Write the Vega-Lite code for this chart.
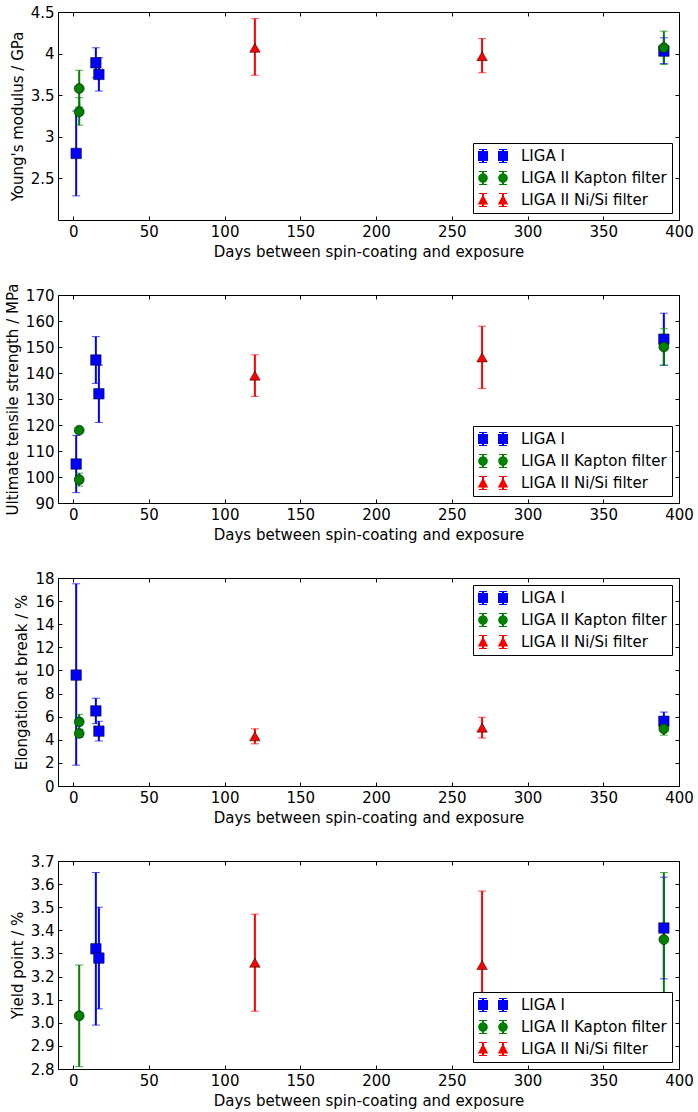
{
  "$schema": "https://vega.github.io/schema/vega-lite/v6.json",
  "padding": {"left": 5, "top": 5, "right": 5, "bottom": 5},
  "bounds": "flush",
  "spacing": 75,
  "resolve": {"legend": {"color": "independent", "shape": "independent"}},
  "config": {
    "font": "DejaVu Sans",
    "view": {"stroke": null},
    "axis": {
      "labelFont": "DejaVu Sans", "labelFontSize": 15, "labelColor": "black",
      "titleFont": "DejaVu Sans", "titleFontSize": 15, "titleFontWeight": "normal", "titleColor": "black",
      "domainColor": "black", "domainWidth": 1, "tickColor": "black", "tickSize": -4, "tickWidth": 1,
      "labelPadding": 8, "grid": false, "labelFlush": false, "labelOverlap": false, "titlePadding": 5
    },
    "legend": {
      "title": null, "strokeColor": "black", "fillColor": "white", "padding": 5, "cornerRadius": 0,
      "labelFont": "DejaVu Sans", "labelFontSize": 15, "labelColor": "black", "symbolOpacity": 1,
      "symbolSize": 256, "labelOffset": 27, "rowPadding": 6, "offset": 7, "symbolStrokeWidth": 0
    }
  },
  "datasets": {
    "ym": [
      {"series": "LIGA I", "day": 2, "v": 2.80, "lo": 2.29, "hi": 3.31},
      {"series": "LIGA I", "day": 15, "v": 3.89, "lo": 3.71, "hi": 4.07},
      {"series": "LIGA I", "day": 17, "v": 3.75, "lo": 3.55, "hi": 3.95},
      {"series": "LIGA I", "day": 390, "v": 4.03, "lo": 3.88, "hi": 4.19},
      {"series": "LIGA II Kapton filter", "day": 4, "v": 3.58, "lo": 3.36, "hi": 3.80},
      {"series": "LIGA II Kapton filter", "day": 4, "v": 3.30, "lo": 3.14, "hi": 3.47},
      {"series": "LIGA II Kapton filter", "day": 390, "v": 4.07, "lo": 3.87, "hi": 4.27},
      {"series": "LIGA II Ni/Si filter", "day": 120, "v": 4.07, "lo": 3.74, "hi": 4.42},
      {"series": "LIGA II Ni/Si filter", "day": 270, "v": 3.97, "lo": 3.77, "hi": 4.18}
    ],
    "uts": [
      {"series": "LIGA I", "day": 2, "v": 105, "lo": 94, "hi": 116},
      {"series": "LIGA I", "day": 15, "v": 145, "lo": 136, "hi": 154},
      {"series": "LIGA I", "day": 17, "v": 132, "lo": 121, "hi": 143},
      {"series": "LIGA I", "day": 390, "v": 153, "lo": 143, "hi": 163},
      {"series": "LIGA II Kapton filter", "day": 4, "v": 118, "lo": 117.5, "hi": 118.5},
      {"series": "LIGA II Kapton filter", "day": 4, "v": 99, "lo": 96.5, "hi": 101.5},
      {"series": "LIGA II Kapton filter", "day": 390, "v": 150, "lo": 143, "hi": 157},
      {"series": "LIGA II Ni/Si filter", "day": 120, "v": 139, "lo": 131, "hi": 147},
      {"series": "LIGA II Ni/Si filter", "day": 270, "v": 146, "lo": 134, "hi": 158}
    ],
    "elong": [
      {"series": "LIGA I", "day": 2, "v": 9.6, "lo": 1.8, "hi": 17.5},
      {"series": "LIGA I", "day": 15, "v": 6.5, "lo": 5.4, "hi": 7.6},
      {"series": "LIGA I", "day": 17, "v": 4.75, "lo": 3.9, "hi": 5.6},
      {"series": "LIGA I", "day": 390, "v": 5.6, "lo": 4.8, "hi": 6.4},
      {"series": "LIGA II Kapton filter", "day": 4, "v": 5.55, "lo": 4.9, "hi": 6.2},
      {"series": "LIGA II Kapton filter", "day": 4, "v": 4.55, "lo": 4.2, "hi": 4.9},
      {"series": "LIGA II Kapton filter", "day": 390, "v": 4.95, "lo": 4.4, "hi": 5.5},
      {"series": "LIGA II Ni/Si filter", "day": 120, "v": 4.3, "lo": 3.65, "hi": 4.95},
      {"series": "LIGA II Ni/Si filter", "day": 270, "v": 5.05, "lo": 4.15, "hi": 5.95}
    ],
    "yield": [
      {"series": "LIGA I", "day": 15, "v": 3.32, "lo": 2.99, "hi": 3.65},
      {"series": "LIGA I", "day": 17, "v": 3.28, "lo": 3.06, "hi": 3.50},
      {"series": "LIGA I", "day": 390, "v": 3.41, "lo": 3.19, "hi": 3.63},
      {"series": "LIGA II Kapton filter", "day": 4, "v": 3.03, "lo": 2.81, "hi": 3.25},
      {"series": "LIGA II Kapton filter", "day": 390, "v": 3.36, "lo": 3.07, "hi": 3.65},
      {"series": "LIGA II Ni/Si filter", "day": 120, "v": 3.26, "lo": 3.05, "hi": 3.47},
      {"series": "LIGA II Ni/Si filter", "day": 270, "v": 3.25, "lo": 2.93, "hi": 3.57}
    ]
  },
  "vconcat": [
    {
      "width": 621, "height": 208,
      "data": {"name": "ym"},
      "resolve": {"axis": {"x": "independent", "y": "independent"}},
      "layer": [
        {"mark": {"type": "point", "filled": true, "opacity": 0},
         "encoding": {
           "x": {"field": "day", "type": "quantitative", "scale": {"domain": [-10, 400], "nice": false, "zero": false}, "axis": {"orient": "bottom", "title": "Days between spin-coating and exposure", "values": [0,50,100,150,200,250,300,350,400], "format": "d"}},
           "y": {"field": "v", "type": "quantitative", "scale": {"domain": [2, 4.5], "nice": false, "zero": false}, "axis": {"orient": "left", "title": "Young's modulus / GPa", "values": [2.5,3,3.5,4,4.5], "format": "~g"}},
           "color": {"field": "series", "type": "nominal", "scale": {"domain": ["LIGA I","LIGA II Kapton filter","LIGA II Ni/Si filter"], "range": ["#0000ff","#008000","#ff0000"]}, "legend": {"orient": "bottom-right"}},
           "shape": {"field": "series", "type": "nominal", "scale": {"domain": ["LIGA I","LIGA II Kapton filter","LIGA II Ni/Si filter"], "range": [
             "M-1,-0.625h1.25v1.25h-1.25Z M-0.5,-0.875h0.25v1.75h-0.25Z M-0.875,-0.875h1v0.125h-1Z M-0.875,0.75h1v0.125h-1Z M1.5,-0.625h1.25v1.25h-1.25Z M2,-0.875h0.25v1.75h-0.25Z M1.625,-0.875h1v0.125h-1Z M1.625,0.75h1v0.125h-1Z",
             "M-0.975,0a0.6,0.6 0 1,1 1.2,0a0.6,0.6 0 1,1 -1.2,0Z M-0.5,-0.875h0.25v1.75h-0.25Z M-0.875,-0.875h1v0.125h-1Z M-0.875,0.75h1v0.125h-1Z M1.525,0a0.6,0.6 0 1,1 1.2,0a0.6,0.6 0 1,1 -1.2,0Z M2,-0.875h0.25v1.75h-0.25Z M1.625,-0.875h1v0.125h-1Z M1.625,0.75h1v0.125h-1Z",
             "M-0.375,-0.7L0.275,0.55L-1.025,0.55Z M-0.5,-0.875h0.25v1.75h-0.25Z M-0.875,-0.875h1v0.125h-1Z M-0.875,0.75h1v0.125h-1Z M2.125,-0.7L2.775,0.55L1.475,0.55Z M2,-0.875h0.25v1.75h-0.25Z M1.625,-0.875h1v0.125h-1Z M1.625,0.75h1v0.125h-1Z"]}, "legend": {"orient": "bottom-right"}}
         }},
        {"mark": {"type": "rule", "strokeWidth": 2},
         "encoding": {
           "x": {"field": "day", "type": "quantitative", "scale": {"domain": [-10, 400], "nice": false, "zero": false}, "axis": {"orient": "top", "labels": false, "title": null, "values": [0,50,100,150,200,250,300,350,400]}},
           "y": {"field": "lo", "type": "quantitative", "scale": {"domain": [2, 4.5], "nice": false, "zero": false}, "axis": {"orient": "right", "labels": false, "title": null, "values": [2.5,3,3.5,4,4.5]}},
           "y2": {"field": "hi"},
           "color": {"field": "series", "type": "nominal", "scale": {"domain": ["LIGA I","LIGA II Kapton filter","LIGA II Ni/Si filter"], "range": ["#0000ff","#008000","#ff0000"]}}
         }},
        {"mark": {"type": "tick", "orient": "horizontal", "thickness": 1, "size": 8},
         "encoding": {
           "x": {"field": "day", "type": "quantitative", "scale": {"domain": [-10, 400], "nice": false, "zero": false}, "axis": null},
           "y": {"field": "lo", "type": "quantitative", "scale": {"domain": [2, 4.5], "nice": false, "zero": false}, "axis": null},
           "color": {"field": "series", "type": "nominal", "scale": {"domain": ["LIGA I","LIGA II Kapton filter","LIGA II Ni/Si filter"], "range": ["#0000ff","#008000","#ff0000"]}}
         }},
        {"mark": {"type": "tick", "orient": "horizontal", "thickness": 1, "size": 8},
         "encoding": {
           "x": {"field": "day", "type": "quantitative", "scale": {"domain": [-10, 400], "nice": false, "zero": false}, "axis": null},
           "y": {"field": "hi", "type": "quantitative", "scale": {"domain": [2, 4.5], "nice": false, "zero": false}, "axis": null},
           "color": {"field": "series", "type": "nominal", "scale": {"domain": ["LIGA I","LIGA II Kapton filter","LIGA II Ni/Si filter"], "range": ["#0000ff","#008000","#ff0000"]}}
         }},
        {"transform": [{"filter": "datum.series === 'LIGA I'"}],
         "mark": {"type": "point", "shape": "square", "filled": true, "size": 110, "stroke": "black", "strokeWidth": 0.5, "opacity": 1},
         "encoding": {
           "x": {"field": "day", "type": "quantitative", "scale": {"domain": [-10, 400], "nice": false, "zero": false}, "axis": null},
           "y": {"field": "v", "type": "quantitative", "scale": {"domain": [2, 4.5], "nice": false, "zero": false}, "axis": null},
           "color": {"field": "series", "type": "nominal", "scale": {"domain": ["LIGA I","LIGA II Kapton filter","LIGA II Ni/Si filter"], "range": ["#0000ff","#008000","#ff0000"]}}
         }},
        {"transform": [{"filter": "datum.series === 'LIGA II Kapton filter'"}],
         "mark": {"type": "point", "shape": "circle", "filled": true, "size": 100, "stroke": "black", "strokeWidth": 0.5, "opacity": 1},
         "encoding": {
           "x": {"field": "day", "type": "quantitative", "scale": {"domain": [-10, 400], "nice": false, "zero": false}, "axis": null},
           "y": {"field": "v", "type": "quantitative", "scale": {"domain": [2, 4.5], "nice": false, "zero": false}, "axis": null},
           "color": {"field": "series", "type": "nominal", "scale": {"domain": ["LIGA I","LIGA II Kapton filter","LIGA II Ni/Si filter"], "range": ["#0000ff","#008000","#ff0000"]}}
         }},
        {"transform": [{"filter": "datum.series === 'LIGA II Ni/Si filter'"}],
         "mark": {"type": "point", "shape": "triangle-up", "filled": true, "size": 110, "stroke": "black", "strokeWidth": 0.5, "opacity": 1},
         "encoding": {
           "x": {"field": "day", "type": "quantitative", "scale": {"domain": [-10, 400], "nice": false, "zero": false}, "axis": null},
           "y": {"field": "v", "type": "quantitative", "scale": {"domain": [2, 4.5], "nice": false, "zero": false}, "axis": null},
           "color": {"field": "series", "type": "nominal", "scale": {"domain": ["LIGA I","LIGA II Kapton filter","LIGA II Ni/Si filter"], "range": ["#0000ff","#008000","#ff0000"]}}
         }}
      ]
    },
    {
      "width": 621, "height": 208,
      "data": {"name": "uts"},
      "resolve": {"axis": {"x": "independent", "y": "independent"}},
      "layer": [
        {"mark": {"type": "point", "filled": true, "opacity": 0},
         "encoding": {
           "x": {"field": "day", "type": "quantitative", "scale": {"domain": [-10, 400], "nice": false, "zero": false}, "axis": {"orient": "bottom", "title": "Days between spin-coating and exposure", "values": [0,50,100,150,200,250,300,350,400], "format": "d"}},
           "y": {"field": "v", "type": "quantitative", "scale": {"domain": [90, 170], "nice": false, "zero": false}, "axis": {"orient": "left", "title": "Ultimate tensile strength / MPa", "values": [90,100,110,120,130,140,150,160,170], "format": "d"}},
           "color": {"field": "series", "type": "nominal", "scale": {"domain": ["LIGA I","LIGA II Kapton filter","LIGA II Ni/Si filter"], "range": ["#0000ff","#008000","#ff0000"]}, "legend": {"orient": "bottom-right"}},
           "shape": {"field": "series", "type": "nominal", "scale": {"domain": ["LIGA I","LIGA II Kapton filter","LIGA II Ni/Si filter"], "range": [
             "M-1,-0.625h1.25v1.25h-1.25Z M-0.5,-0.875h0.25v1.75h-0.25Z M-0.875,-0.875h1v0.125h-1Z M-0.875,0.75h1v0.125h-1Z M1.5,-0.625h1.25v1.25h-1.25Z M2,-0.875h0.25v1.75h-0.25Z M1.625,-0.875h1v0.125h-1Z M1.625,0.75h1v0.125h-1Z",
             "M-0.975,0a0.6,0.6 0 1,1 1.2,0a0.6,0.6 0 1,1 -1.2,0Z M-0.5,-0.875h0.25v1.75h-0.25Z M-0.875,-0.875h1v0.125h-1Z M-0.875,0.75h1v0.125h-1Z M1.525,0a0.6,0.6 0 1,1 1.2,0a0.6,0.6 0 1,1 -1.2,0Z M2,-0.875h0.25v1.75h-0.25Z M1.625,-0.875h1v0.125h-1Z M1.625,0.75h1v0.125h-1Z",
             "M-0.375,-0.7L0.275,0.55L-1.025,0.55Z M-0.5,-0.875h0.25v1.75h-0.25Z M-0.875,-0.875h1v0.125h-1Z M-0.875,0.75h1v0.125h-1Z M2.125,-0.7L2.775,0.55L1.475,0.55Z M2,-0.875h0.25v1.75h-0.25Z M1.625,-0.875h1v0.125h-1Z M1.625,0.75h1v0.125h-1Z"]}, "legend": {"orient": "bottom-right"}}
         }},
        {"mark": {"type": "rule", "strokeWidth": 2},
         "encoding": {
           "x": {"field": "day", "type": "quantitative", "scale": {"domain": [-10, 400], "nice": false, "zero": false}, "axis": {"orient": "top", "labels": false, "title": null, "values": [0,50,100,150,200,250,300,350,400]}},
           "y": {"field": "lo", "type": "quantitative", "scale": {"domain": [90, 170], "nice": false, "zero": false}, "axis": {"orient": "right", "labels": false, "title": null, "values": [90,100,110,120,130,140,150,160,170]}},
           "y2": {"field": "hi"},
           "color": {"field": "series", "type": "nominal", "scale": {"domain": ["LIGA I","LIGA II Kapton filter","LIGA II Ni/Si filter"], "range": ["#0000ff","#008000","#ff0000"]}}
         }},
        {"mark": {"type": "tick", "orient": "horizontal", "thickness": 1, "size": 8},
         "encoding": {
           "x": {"field": "day", "type": "quantitative", "scale": {"domain": [-10, 400], "nice": false, "zero": false}, "axis": null},
           "y": {"field": "lo", "type": "quantitative", "scale": {"domain": [90, 170], "nice": false, "zero": false}, "axis": null},
           "color": {"field": "series", "type": "nominal", "scale": {"domain": ["LIGA I","LIGA II Kapton filter","LIGA II Ni/Si filter"], "range": ["#0000ff","#008000","#ff0000"]}}
         }},
        {"mark": {"type": "tick", "orient": "horizontal", "thickness": 1, "size": 8},
         "encoding": {
           "x": {"field": "day", "type": "quantitative", "scale": {"domain": [-10, 400], "nice": false, "zero": false}, "axis": null},
           "y": {"field": "hi", "type": "quantitative", "scale": {"domain": [90, 170], "nice": false, "zero": false}, "axis": null},
           "color": {"field": "series", "type": "nominal", "scale": {"domain": ["LIGA I","LIGA II Kapton filter","LIGA II Ni/Si filter"], "range": ["#0000ff","#008000","#ff0000"]}}
         }},
        {"transform": [{"filter": "datum.series === 'LIGA I'"}],
         "mark": {"type": "point", "shape": "square", "filled": true, "size": 110, "stroke": "black", "strokeWidth": 0.5, "opacity": 1},
         "encoding": {
           "x": {"field": "day", "type": "quantitative", "scale": {"domain": [-10, 400], "nice": false, "zero": false}, "axis": null},
           "y": {"field": "v", "type": "quantitative", "scale": {"domain": [90, 170], "nice": false, "zero": false}, "axis": null},
           "color": {"field": "series", "type": "nominal", "scale": {"domain": ["LIGA I","LIGA II Kapton filter","LIGA II Ni/Si filter"], "range": ["#0000ff","#008000","#ff0000"]}}
         }},
        {"transform": [{"filter": "datum.series === 'LIGA II Kapton filter'"}],
         "mark": {"type": "point", "shape": "circle", "filled": true, "size": 100, "stroke": "black", "strokeWidth": 0.5, "opacity": 1},
         "encoding": {
           "x": {"field": "day", "type": "quantitative", "scale": {"domain": [-10, 400], "nice": false, "zero": false}, "axis": null},
           "y": {"field": "v", "type": "quantitative", "scale": {"domain": [90, 170], "nice": false, "zero": false}, "axis": null},
           "color": {"field": "series", "type": "nominal", "scale": {"domain": ["LIGA I","LIGA II Kapton filter","LIGA II Ni/Si filter"], "range": ["#0000ff","#008000","#ff0000"]}}
         }},
        {"transform": [{"filter": "datum.series === 'LIGA II Ni/Si filter'"}],
         "mark": {"type": "point", "shape": "triangle-up", "filled": true, "size": 110, "stroke": "black", "strokeWidth": 0.5, "opacity": 1},
         "encoding": {
           "x": {"field": "day", "type": "quantitative", "scale": {"domain": [-10, 400], "nice": false, "zero": false}, "axis": null},
           "y": {"field": "v", "type": "quantitative", "scale": {"domain": [90, 170], "nice": false, "zero": false}, "axis": null},
           "color": {"field": "series", "type": "nominal", "scale": {"domain": ["LIGA I","LIGA II Kapton filter","LIGA II Ni/Si filter"], "range": ["#0000ff","#008000","#ff0000"]}}
         }}
      ]
    },
    {
      "width": 621, "height": 208,
      "data": {"name": "elong"},
      "resolve": {"axis": {"x": "independent", "y": "independent"}},
      "layer": [
        {"mark": {"type": "point", "filled": true, "opacity": 0},
         "encoding": {
           "x": {"field": "day", "type": "quantitative", "scale": {"domain": [-10, 400], "nice": false, "zero": false}, "axis": {"orient": "bottom", "title": "Days between spin-coating and exposure", "values": [0,50,100,150,200,250,300,350,400], "format": "d"}},
           "y": {"field": "v", "type": "quantitative", "scale": {"domain": [0, 18], "nice": false, "zero": false}, "axis": {"orient": "left", "title": "Elongation at break / %", "values": [0,2,4,6,8,10,12,14,16,18], "format": "d"}},
           "color": {"field": "series", "type": "nominal", "scale": {"domain": ["LIGA I","LIGA II Kapton filter","LIGA II Ni/Si filter"], "range": ["#0000ff","#008000","#ff0000"]}, "legend": {"orient": "top-right"}},
           "shape": {"field": "series", "type": "nominal", "scale": {"domain": ["LIGA I","LIGA II Kapton filter","LIGA II Ni/Si filter"], "range": [
             "M-1,-0.625h1.25v1.25h-1.25Z M-0.5,-0.875h0.25v1.75h-0.25Z M-0.875,-0.875h1v0.125h-1Z M-0.875,0.75h1v0.125h-1Z M1.5,-0.625h1.25v1.25h-1.25Z M2,-0.875h0.25v1.75h-0.25Z M1.625,-0.875h1v0.125h-1Z M1.625,0.75h1v0.125h-1Z",
             "M-0.975,0a0.6,0.6 0 1,1 1.2,0a0.6,0.6 0 1,1 -1.2,0Z M-0.5,-0.875h0.25v1.75h-0.25Z M-0.875,-0.875h1v0.125h-1Z M-0.875,0.75h1v0.125h-1Z M1.525,0a0.6,0.6 0 1,1 1.2,0a0.6,0.6 0 1,1 -1.2,0Z M2,-0.875h0.25v1.75h-0.25Z M1.625,-0.875h1v0.125h-1Z M1.625,0.75h1v0.125h-1Z",
             "M-0.375,-0.7L0.275,0.55L-1.025,0.55Z M-0.5,-0.875h0.25v1.75h-0.25Z M-0.875,-0.875h1v0.125h-1Z M-0.875,0.75h1v0.125h-1Z M2.125,-0.7L2.775,0.55L1.475,0.55Z M2,-0.875h0.25v1.75h-0.25Z M1.625,-0.875h1v0.125h-1Z M1.625,0.75h1v0.125h-1Z"]}, "legend": {"orient": "top-right"}}
         }},
        {"mark": {"type": "rule", "strokeWidth": 2},
         "encoding": {
           "x": {"field": "day", "type": "quantitative", "scale": {"domain": [-10, 400], "nice": false, "zero": false}, "axis": {"orient": "top", "labels": false, "title": null, "values": [0,50,100,150,200,250,300,350,400]}},
           "y": {"field": "lo", "type": "quantitative", "scale": {"domain": [0, 18], "nice": false, "zero": false}, "axis": {"orient": "right", "labels": false, "title": null, "values": [0,2,4,6,8,10,12,14,16,18]}},
           "y2": {"field": "hi"},
           "color": {"field": "series", "type": "nominal", "scale": {"domain": ["LIGA I","LIGA II Kapton filter","LIGA II Ni/Si filter"], "range": ["#0000ff","#008000","#ff0000"]}}
         }},
        {"mark": {"type": "tick", "orient": "horizontal", "thickness": 1, "size": 8},
         "encoding": {
           "x": {"field": "day", "type": "quantitative", "scale": {"domain": [-10, 400], "nice": false, "zero": false}, "axis": null},
           "y": {"field": "lo", "type": "quantitative", "scale": {"domain": [0, 18], "nice": false, "zero": false}, "axis": null},
           "color": {"field": "series", "type": "nominal", "scale": {"domain": ["LIGA I","LIGA II Kapton filter","LIGA II Ni/Si filter"], "range": ["#0000ff","#008000","#ff0000"]}}
         }},
        {"mark": {"type": "tick", "orient": "horizontal", "thickness": 1, "size": 8},
         "encoding": {
           "x": {"field": "day", "type": "quantitative", "scale": {"domain": [-10, 400], "nice": false, "zero": false}, "axis": null},
           "y": {"field": "hi", "type": "quantitative", "scale": {"domain": [0, 18], "nice": false, "zero": false}, "axis": null},
           "color": {"field": "series", "type": "nominal", "scale": {"domain": ["LIGA I","LIGA II Kapton filter","LIGA II Ni/Si filter"], "range": ["#0000ff","#008000","#ff0000"]}}
         }},
        {"transform": [{"filter": "datum.series === 'LIGA I'"}],
         "mark": {"type": "point", "shape": "square", "filled": true, "size": 110, "stroke": "black", "strokeWidth": 0.5, "opacity": 1},
         "encoding": {
           "x": {"field": "day", "type": "quantitative", "scale": {"domain": [-10, 400], "nice": false, "zero": false}, "axis": null},
           "y": {"field": "v", "type": "quantitative", "scale": {"domain": [0, 18], "nice": false, "zero": false}, "axis": null},
           "color": {"field": "series", "type": "nominal", "scale": {"domain": ["LIGA I","LIGA II Kapton filter","LIGA II Ni/Si filter"], "range": ["#0000ff","#008000","#ff0000"]}}
         }},
        {"transform": [{"filter": "datum.series === 'LIGA II Kapton filter'"}],
         "mark": {"type": "point", "shape": "circle", "filled": true, "size": 100, "stroke": "black", "strokeWidth": 0.5, "opacity": 1},
         "encoding": {
           "x": {"field": "day", "type": "quantitative", "scale": {"domain": [-10, 400], "nice": false, "zero": false}, "axis": null},
           "y": {"field": "v", "type": "quantitative", "scale": {"domain": [0, 18], "nice": false, "zero": false}, "axis": null},
           "color": {"field": "series", "type": "nominal", "scale": {"domain": ["LIGA I","LIGA II Kapton filter","LIGA II Ni/Si filter"], "range": ["#0000ff","#008000","#ff0000"]}}
         }},
        {"transform": [{"filter": "datum.series === 'LIGA II Ni/Si filter'"}],
         "mark": {"type": "point", "shape": "triangle-up", "filled": true, "size": 110, "stroke": "black", "strokeWidth": 0.5, "opacity": 1},
         "encoding": {
           "x": {"field": "day", "type": "quantitative", "scale": {"domain": [-10, 400], "nice": false, "zero": false}, "axis": null},
           "y": {"field": "v", "type": "quantitative", "scale": {"domain": [0, 18], "nice": false, "zero": false}, "axis": null},
           "color": {"field": "series", "type": "nominal", "scale": {"domain": ["LIGA I","LIGA II Kapton filter","LIGA II Ni/Si filter"], "range": ["#0000ff","#008000","#ff0000"]}}
         }}
      ]
    },
    {
      "width": 621, "height": 208,
      "data": {"name": "yield"},
      "resolve": {"axis": {"x": "independent", "y": "independent"}},
      "layer": [
        {"mark": {"type": "point", "filled": true, "opacity": 0},
         "encoding": {
           "x": {"field": "day", "type": "quantitative", "scale": {"domain": [-10, 400], "nice": false, "zero": false}, "axis": {"orient": "bottom", "title": "Days between spin-coating and exposure", "values": [0,50,100,150,200,250,300,350,400], "format": "d"}},
           "y": {"field": "v", "type": "quantitative", "scale": {"domain": [2.8, 3.7], "nice": false, "zero": false}, "axis": {"orient": "left", "title": "Yield point / %", "values": [2.8,2.9,3.0,3.1,3.2,3.3,3.4,3.5,3.6,3.7], "format": ".1f"}},
           "color": {"field": "series", "type": "nominal", "scale": {"domain": ["LIGA I","LIGA II Kapton filter","LIGA II Ni/Si filter"], "range": ["#0000ff","#008000","#ff0000"]}, "legend": {"orient": "bottom-right"}},
           "shape": {"field": "series", "type": "nominal", "scale": {"domain": ["LIGA I","LIGA II Kapton filter","LIGA II Ni/Si filter"], "range": [
             "M-1,-0.625h1.25v1.25h-1.25Z M-0.5,-0.875h0.25v1.75h-0.25Z M-0.875,-0.875h1v0.125h-1Z M-0.875,0.75h1v0.125h-1Z M1.5,-0.625h1.25v1.25h-1.25Z M2,-0.875h0.25v1.75h-0.25Z M1.625,-0.875h1v0.125h-1Z M1.625,0.75h1v0.125h-1Z",
             "M-0.975,0a0.6,0.6 0 1,1 1.2,0a0.6,0.6 0 1,1 -1.2,0Z M-0.5,-0.875h0.25v1.75h-0.25Z M-0.875,-0.875h1v0.125h-1Z M-0.875,0.75h1v0.125h-1Z M1.525,0a0.6,0.6 0 1,1 1.2,0a0.6,0.6 0 1,1 -1.2,0Z M2,-0.875h0.25v1.75h-0.25Z M1.625,-0.875h1v0.125h-1Z M1.625,0.75h1v0.125h-1Z",
             "M-0.375,-0.7L0.275,0.55L-1.025,0.55Z M-0.5,-0.875h0.25v1.75h-0.25Z M-0.875,-0.875h1v0.125h-1Z M-0.875,0.75h1v0.125h-1Z M2.125,-0.7L2.775,0.55L1.475,0.55Z M2,-0.875h0.25v1.75h-0.25Z M1.625,-0.875h1v0.125h-1Z M1.625,0.75h1v0.125h-1Z"]}, "legend": {"orient": "bottom-right"}}
         }},
        {"mark": {"type": "rule", "strokeWidth": 2},
         "encoding": {
           "x": {"field": "day", "type": "quantitative", "scale": {"domain": [-10, 400], "nice": false, "zero": false}, "axis": {"orient": "top", "labels": false, "title": null, "values": [0,50,100,150,200,250,300,350,400]}},
           "y": {"field": "lo", "type": "quantitative", "scale": {"domain": [2.8, 3.7], "nice": false, "zero": false}, "axis": {"orient": "right", "labels": false, "title": null, "values": [2.8,2.9,3.0,3.1,3.2,3.3,3.4,3.5,3.6,3.7]}},
           "y2": {"field": "hi"},
           "color": {"field": "series", "type": "nominal", "scale": {"domain": ["LIGA I","LIGA II Kapton filter","LIGA II Ni/Si filter"], "range": ["#0000ff","#008000","#ff0000"]}}
         }},
        {"mark": {"type": "tick", "orient": "horizontal", "thickness": 1, "size": 8},
         "encoding": {
           "x": {"field": "day", "type": "quantitative", "scale": {"domain": [-10, 400], "nice": false, "zero": false}, "axis": null},
           "y": {"field": "lo", "type": "quantitative", "scale": {"domain": [2.8, 3.7], "nice": false, "zero": false}, "axis": null},
           "color": {"field": "series", "type": "nominal", "scale": {"domain": ["LIGA I","LIGA II Kapton filter","LIGA II Ni/Si filter"], "range": ["#0000ff","#008000","#ff0000"]}}
         }},
        {"mark": {"type": "tick", "orient": "horizontal", "thickness": 1, "size": 8},
         "encoding": {
           "x": {"field": "day", "type": "quantitative", "scale": {"domain": [-10, 400], "nice": false, "zero": false}, "axis": null},
           "y": {"field": "hi", "type": "quantitative", "scale": {"domain": [2.8, 3.7], "nice": false, "zero": false}, "axis": null},
           "color": {"field": "series", "type": "nominal", "scale": {"domain": ["LIGA I","LIGA II Kapton filter","LIGA II Ni/Si filter"], "range": ["#0000ff","#008000","#ff0000"]}}
         }},
        {"transform": [{"filter": "datum.series === 'LIGA I'"}],
         "mark": {"type": "point", "shape": "square", "filled": true, "size": 110, "stroke": "black", "strokeWidth": 0.5, "opacity": 1},
         "encoding": {
           "x": {"field": "day", "type": "quantitative", "scale": {"domain": [-10, 400], "nice": false, "zero": false}, "axis": null},
           "y": {"field": "v", "type": "quantitative", "scale": {"domain": [2.8, 3.7], "nice": false, "zero": false}, "axis": null},
           "color": {"field": "series", "type": "nominal", "scale": {"domain": ["LIGA I","LIGA II Kapton filter","LIGA II Ni/Si filter"], "range": ["#0000ff","#008000","#ff0000"]}}
         }},
        {"transform": [{"filter": "datum.series === 'LIGA II Kapton filter'"}],
         "mark": {"type": "point", "shape": "circle", "filled": true, "size": 100, "stroke": "black", "strokeWidth": 0.5, "opacity": 1},
         "encoding": {
           "x": {"field": "day", "type": "quantitative", "scale": {"domain": [-10, 400], "nice": false, "zero": false}, "axis": null},
           "y": {"field": "v", "type": "quantitative", "scale": {"domain": [2.8, 3.7], "nice": false, "zero": false}, "axis": null},
           "color": {"field": "series", "type": "nominal", "scale": {"domain": ["LIGA I","LIGA II Kapton filter","LIGA II Ni/Si filter"], "range": ["#0000ff","#008000","#ff0000"]}}
         }},
        {"transform": [{"filter": "datum.series === 'LIGA II Ni/Si filter'"}],
         "mark": {"type": "point", "shape": "triangle-up", "filled": true, "size": 110, "stroke": "black", "strokeWidth": 0.5, "opacity": 1},
         "encoding": {
           "x": {"field": "day", "type": "quantitative", "scale": {"domain": [-10, 400], "nice": false, "zero": false}, "axis": null},
           "y": {"field": "v", "type": "quantitative", "scale": {"domain": [2.8, 3.7], "nice": false, "zero": false}, "axis": null},
           "color": {"field": "series", "type": "nominal", "scale": {"domain": ["LIGA I","LIGA II Kapton filter","LIGA II Ni/Si filter"], "range": ["#0000ff","#008000","#ff0000"]}}
         }}
      ]
    }
  ]
}
